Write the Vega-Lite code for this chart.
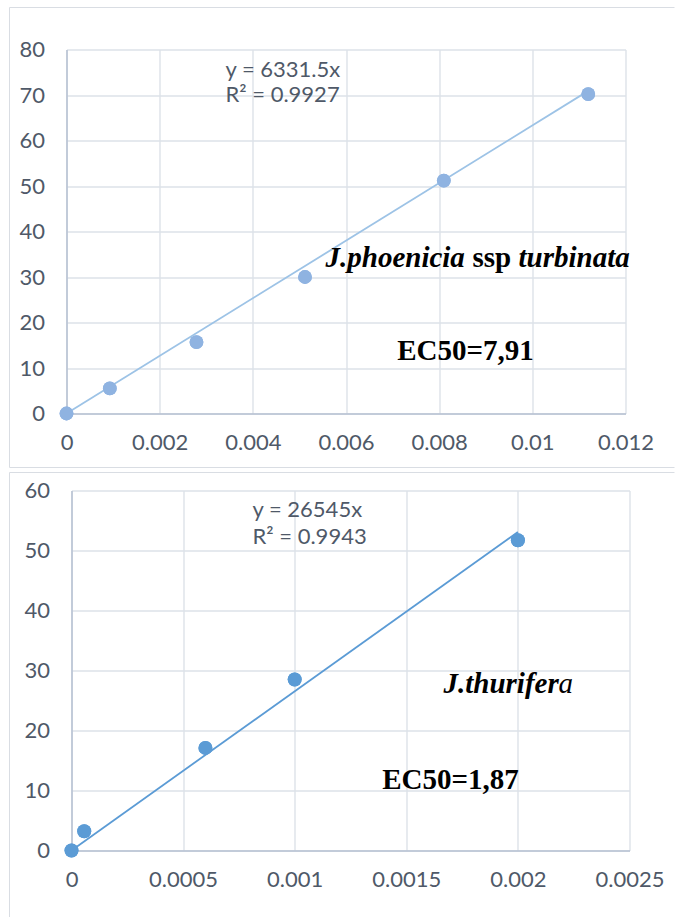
{
  "$schema": "https://vega.github.io/schema/vega-lite/v6.json",
  "padding": {"left": 8.5, "top": 6.5, "right": 0, "bottom": 0},
  "spacing": 3,
  "background": "white",
  "config": {
    "view": {"stroke": null},
    "axis": {
      "grid": true,
      "labelFont": "Lato",
      "labelFontSize": 22,
      "labelColor": "#4f5968",
      "gridColor": "#dde2e9",
      "gridWidth": 1.4,
      "domainColor": "#b6c1d2",
      "domainWidth": 1.5,
      "ticks": false,
      "labelFlush": false,
      "labelOverlap": false
    },
    "axisX": {"labelPadding": 19},
    "axisY": {"labelPadding": 22}
  },
  "datasets": {
    "phoenicia": [
      {"conc": 0, "inhib": 0},
      {"conc": 0.00093, "inhib": 5.5},
      {"conc": 0.00279, "inhib": 15.7},
      {"conc": 0.00512, "inhib": 30.0},
      {"conc": 0.0081, "inhib": 51.2},
      {"conc": 0.0112, "inhib": 70.2}
    ],
    "phoenicia_fit": [
      {"conc": 0, "inhib": 0},
      {"conc": 0.0112, "inhib": 70.91}
    ],
    "thurifera": [
      {"conc": 0, "inhib": 0},
      {"conc": 0.000057, "inhib": 3.2},
      {"conc": 0.0006, "inhib": 17.1},
      {"conc": 0.001, "inhib": 28.5},
      {"conc": 0.002, "inhib": 51.7}
    ],
    "thurifera_fit": [
      {"conc": 0, "inhib": 0},
      {"conc": 0.002, "inhib": 53.09}
    ]
  },
  "vconcat": [
    {
      "width": 559,
      "height": 364,
      "layer": [
        {
          "data": {"name": "phoenicia"},
          "mark": {"type": "point", "filled": true, "size": 190, "color": "#8fb3e1", "opacity": 1},
          "encoding": {
            "x": {
              "field": "conc", "type": "quantitative", "scale": {"domain": [0, 0.012]}, "title": null,
              "axis": {"values": [0, 0.002, 0.004, 0.006, 0.008, 0.01, 0.012], "format": "~g", "grid": true}
            },
            "y": {
              "field": "inhib", "type": "quantitative", "scale": {"domain": [0, 80]}, "title": null,
              "axis": {"values": [0, 10, 20, 30, 40, 50, 60, 70, 80], "format": "d", "grid": true}
            }
          }
        },
        {
          "data": {"name": "phoenicia_fit"},
          "mark": {"type": "line", "color": "#9dc3e6", "strokeWidth": 1.8},
          "encoding": {
            "x": {"field": "conc", "type": "quantitative", "scale": {"domain": [0, 0.012]}, "title": null},
            "y": {"field": "inhib", "type": "quantitative", "scale": {"domain": [0, 80]}, "title": null}
          }
        },
        {
          "data": {"name": "phoenicia"},
          "mark": {"type": "point", "filled": true, "size": 190, "color": "#8fb3e1", "opacity": 1},
          "encoding": {
            "x": {"field": "conc", "type": "quantitative", "scale": {"domain": [0, 0.012]}, "title": null},
            "y": {"field": "inhib", "type": "quantitative", "scale": {"domain": [0, 80]}, "title": null}
          }
        },
        {
          "data": {"values": [{}]},
          "mark": {"type": "rule", "color": "#d9dde3", "strokeWidth": 1},
          "encoding": {
            "x": {"datum": -0.0012236, "type": "quantitative", "scale": {"domain": [0, 0.012]}, "title": null},
            "x2": {"datum": 0.013052},
            "y": {"datum": 89.23, "type": "quantitative", "scale": {"domain": [0, 80]}, "title": null}
          }
        },
        {
          "data": {"values": [{}]},
          "mark": {"type": "rule", "color": "#d9dde3", "strokeWidth": 1},
          "encoding": {
            "x": {"datum": -0.0012236, "type": "quantitative", "scale": {"domain": [0, 0.012]}, "title": null},
            "x2": {"datum": 0.013052},
            "y": {"datum": -11.868, "type": "quantitative", "scale": {"domain": [0, 80]}, "title": null}
          }
        },
        {
          "data": {"values": [{}]},
          "mark": {"type": "rule", "color": "#d9dde3", "strokeWidth": 1},
          "encoding": {
            "x": {"datum": -0.0012236, "type": "quantitative", "scale": {"domain": [0, 0.012]}, "title": null},
            "y": {"datum": 89.23, "type": "quantitative", "scale": {"domain": [0, 80]}, "title": null},
            "y2": {"datum": -11.868}
          }
        },
        {
          "data": {"values": [{}]},
          "mark": {"type": "text", "text": "y = 6331.5x", "font": "Lato", "fontSize": 22, "color": "#4f5968", "align": "left", "baseline": "middle"},
          "encoding": {
            "x": {"datum": 0.003413, "type": "quantitative", "scale": {"domain": [0, 0.012]}, "title": null},
            "y": {"datum": 75.4, "type": "quantitative", "scale": {"domain": [0, 80]}, "title": null}
          }
        },
        {
          "data": {"values": [{}]},
          "mark": {"type": "text", "text": "R² = 0.9927", "font": "Lato", "fontSize": 22, "color": "#4f5968", "align": "left", "baseline": "middle"},
          "encoding": {
            "x": {"datum": 0.003413, "type": "quantitative", "scale": {"domain": [0, 0.012]}, "title": null},
            "y": {"datum": 69.9, "type": "quantitative", "scale": {"domain": [0, 80]}, "title": null}
          }
        },
        {
          "data": {"values": [{}]},
          "mark": {"type": "text", "text": "J.phoenicia", "font": "Liberation Serif", "fontSize": 29, "fontWeight": "bold", "fontStyle": "italic", "color": "black", "align": "left", "baseline": "alphabetic"},
          "encoding": {
            "x": {"datum": 0.00556, "type": "quantitative", "scale": {"domain": [0, 0.012]}, "title": null},
            "y": {"datum": 32.09, "type": "quantitative", "scale": {"domain": [0, 80]}, "title": null}
          }
        },
        {
          "data": {"values": [{}]},
          "mark": {"type": "text", "text": "ssp", "font": "Liberation Serif", "fontSize": 29, "fontWeight": "bold", "color": "black", "align": "left", "baseline": "alphabetic"},
          "encoding": {
            "x": {"datum": 0.008716, "type": "quantitative", "scale": {"domain": [0, 0.012]}, "title": null},
            "y": {"datum": 32.09, "type": "quantitative", "scale": {"domain": [0, 80]}, "title": null}
          }
        },
        {
          "data": {"values": [{}]},
          "mark": {"type": "text", "text": "turbinata", "font": "Liberation Serif", "fontSize": 29, "fontWeight": "bold", "fontStyle": "italic", "color": "black", "align": "left", "baseline": "alphabetic"},
          "encoding": {
            "x": {"datum": 0.009703, "type": "quantitative", "scale": {"domain": [0, 0.012]}, "title": null},
            "y": {"datum": 32.09, "type": "quantitative", "scale": {"domain": [0, 80]}, "title": null}
          }
        },
        {
          "data": {"values": [{}]},
          "mark": {"type": "text", "text": "EC50=7,91", "font": "Liberation Serif", "fontSize": 29, "fontWeight": "bold", "color": "black", "align": "center", "baseline": "alphabetic"},
          "encoding": {
            "x": {"datum": 0.008565, "type": "quantitative", "scale": {"domain": [0, 0.012]}, "title": null},
            "y": {"datum": 11.65, "type": "quantitative", "scale": {"domain": [0, 80]}, "title": null}
          }
        }
      ]
    },
    {
      "width": 563,
      "height": 360,
      "layer": [
        {
          "data": {"name": "thurifera"},
          "mark": {"type": "point", "filled": true, "size": 195, "color": "#5b9bd5", "opacity": 1},
          "encoding": {
            "x": {
              "field": "conc", "type": "quantitative", "scale": {"domain": [0, 0.0025], "range": [5, 563]}, "title": null,
              "axis": {"values": [0, 0.0005, 0.001, 0.0015, 0.002, 0.0025], "format": "~g", "grid": true}
            },
            "y": {
              "field": "inhib", "type": "quantitative", "scale": {"domain": [0, 60]}, "title": null,
              "axis": {"values": [0, 10, 20, 30, 40, 50, 60], "format": "d", "grid": true, "offset": -5}
            }
          }
        },
        {
          "data": {"name": "thurifera_fit"},
          "mark": {"type": "line", "color": "#5b9bd5", "strokeWidth": 1.8},
          "encoding": {
            "x": {"field": "conc", "type": "quantitative", "scale": {"domain": [0, 0.0025], "range": [5, 563]}, "title": null},
            "y": {"field": "inhib", "type": "quantitative", "scale": {"domain": [0, 60]}, "title": null}
          }
        },
        {
          "data": {"name": "thurifera"},
          "mark": {"type": "point", "filled": true, "size": 195, "color": "#5b9bd5", "opacity": 1},
          "encoding": {
            "x": {"field": "conc", "type": "quantitative", "scale": {"domain": [0, 0.0025], "range": [5, 563]}, "title": null},
            "y": {"field": "inhib", "type": "quantitative", "scale": {"domain": [0, 60]}, "title": null}
          }
        },
        {
          "data": {"values": [{}]},
          "mark": {"type": "rule", "color": "#d9dde3", "strokeWidth": 1},
          "encoding": {
            "x": {"datum": -0.0002778, "type": "quantitative", "scale": {"domain": [0, 0.0025], "range": [5, 563]}, "title": null},
            "x2": {"datum": 0.0027016},
            "y": {"datum": 63.0, "type": "quantitative", "scale": {"domain": [0, 60]}, "title": null}
          }
        },
        {
          "data": {"values": [{}]},
          "mark": {"type": "rule", "color": "#d9dde3", "strokeWidth": 1},
          "encoding": {
            "x": {"datum": -0.0002778, "type": "quantitative", "scale": {"domain": [0, 0.0025], "range": [5, 563]}, "title": null},
            "y": {"datum": 63.0, "type": "quantitative", "scale": {"domain": [0, 60]}, "title": null},
            "y2": {"datum": -11.17}
          }
        },
        {
          "data": {"values": [{}]},
          "mark": {"type": "text", "text": "y = 26545x", "font": "Lato", "fontSize": 22, "color": "#4f5968", "align": "left", "baseline": "middle"},
          "encoding": {
            "x": {"datum": 0.000811, "type": "quantitative", "scale": {"domain": [0, 0.0025], "range": [5, 563]}, "title": null},
            "y": {"datum": 56.83, "type": "quantitative", "scale": {"domain": [0, 60]}, "title": null}
          }
        },
        {
          "data": {"values": [{}]},
          "mark": {"type": "text", "text": "R² = 0.9943", "font": "Lato", "fontSize": 22, "color": "#4f5968", "align": "left", "baseline": "middle"},
          "encoding": {
            "x": {"datum": 0.000811, "type": "quantitative", "scale": {"domain": [0, 0.0025], "range": [5, 563]}, "title": null},
            "y": {"datum": 52.33, "type": "quantitative", "scale": {"domain": [0, 60]}, "title": null}
          }
        },
        {
          "data": {"values": [{}]},
          "mark": {"type": "text", "text": "J.thurifer", "font": "Liberation Serif", "fontSize": 29, "fontWeight": "bold", "fontStyle": "italic", "color": "black", "align": "left", "baseline": "alphabetic"},
          "encoding": {
            "x": {"datum": 0.0016667, "type": "quantitative", "scale": {"domain": [0, 0.0025], "range": [5, 563]}, "title": null},
            "y": {"datum": 26.17, "type": "quantitative", "scale": {"domain": [0, 60]}, "title": null}
          }
        },
        {
          "data": {"values": [{}]},
          "mark": {"type": "text", "text": "a", "font": "Liberation Serif", "fontSize": 29, "fontStyle": "italic", "color": "black", "align": "left", "baseline": "alphabetic"},
          "encoding": {
            "x": {"datum": 0.002182, "type": "quantitative", "scale": {"domain": [0, 0.0025], "range": [5, 563]}, "title": null},
            "y": {"datum": 26.17, "type": "quantitative", "scale": {"domain": [0, 60]}, "title": null}
          }
        },
        {
          "data": {"values": [{}]},
          "mark": {"type": "text", "text": "EC50=1,87", "font": "Liberation Serif", "fontSize": 29, "fontWeight": "bold", "color": "black", "align": "center", "baseline": "alphabetic"},
          "encoding": {
            "x": {"datum": 0.001698, "type": "quantitative", "scale": {"domain": [0, 0.0025], "range": [5, 563]}, "title": null},
            "y": {"datum": 10.33, "type": "quantitative", "scale": {"domain": [0, 60]}, "title": null}
          }
        }
      ]
    }
  ]
}
